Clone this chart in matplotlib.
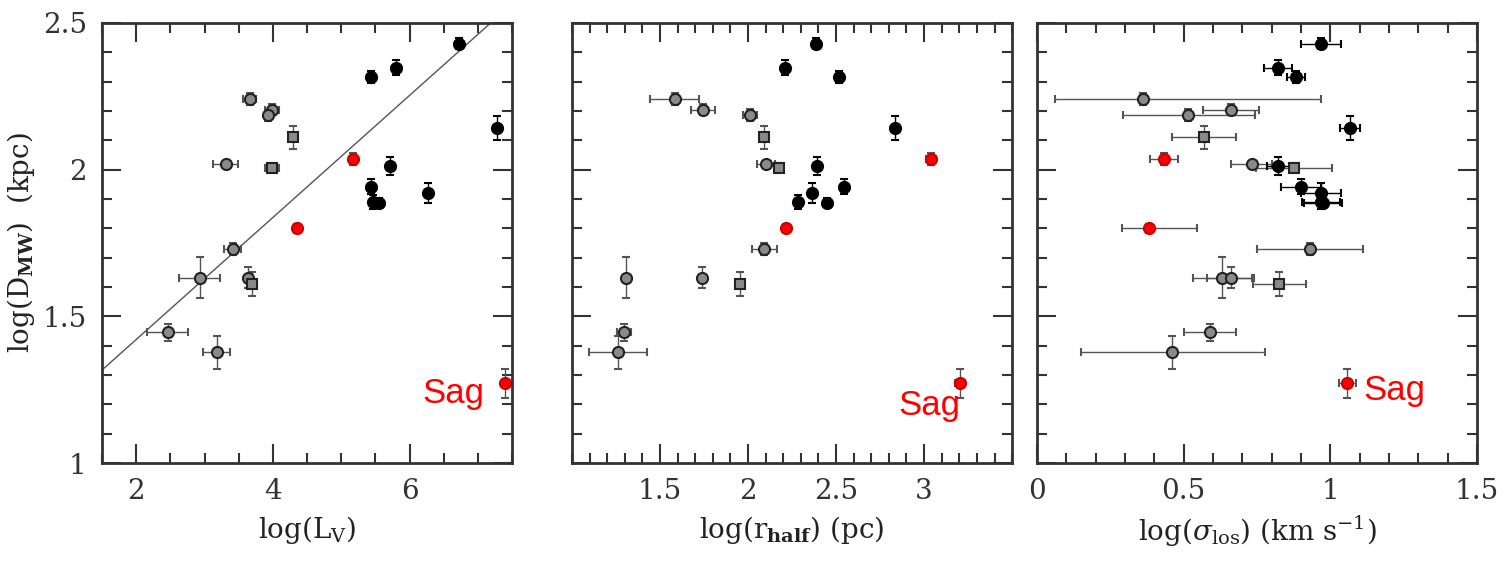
import matplotlib.pyplot as plt
from matplotlib.ticker import MultipleLocator, FormatStrFormatter

plt.rcParams['font.family'] = 'DejaVu Serif'
plt.rcParams['mathtext.fontset'] = 'dejavuserif'

# one entry per galaxy (same order in every list)
kind = ['filled', 'filled', 'filled', 'open', 'open', 'open', 'square', 'filled',
        'red', 'open', 'square', 'filled', 'filled', 'filled', 'filled', 'filled',
        'red', 'open', 'open', 'open', 'square', 'open', 'open', 'red']
log_dmw = [2.43, 2.348, 2.316, 2.24, 2.205, 2.187, 2.11, 2.142,
           2.037, 2.018, 2.007, 2.013, 1.942, 1.921, 1.89, 1.887,
           1.80, 1.73, 1.632, 1.632, 1.61, 1.445, 1.377, 1.272]
dmw_err = [0.02, 0.025, 0.02, 0.02, 0.02, 0.02, 0.04, 0.04,
           0.02, 0.01, 0.015, 0.03, 0.025, 0.035, 0.025, 0.015,
           0.015, 0.02, 0.07, 0.035, 0.04, 0.03, 0.055, 0.05]

log_lv = [6.73, 5.80, 5.43, 3.66, 3.99, 3.93, 4.29, 7.28,
          5.18, 3.31, 3.99, 5.71, 5.43, 6.27, 5.46, 5.56,
          4.36, 3.41, 2.93, 3.64, 3.69, 2.46, 3.18, 7.40]
lv_err = [0.0, 0.0, 0.0, 0.1, 0.1, 0.05, 0.0, 0.0,
          0.03, 0.18, 0.1, 0.0, 0.0, 0.0, 0.0, 0.0,
          0.03, 0.13, 0.3, 0.05, 0.05, 0.3, 0.2, 0.0]

log_rhalf = [2.386, 2.208, 2.519, 1.583, 1.743, 2.013, 2.093, 2.834,
             3.04, 2.102, 2.178, 2.392, 2.547, 2.364, 2.282, 2.449,
             2.216, 2.093, 1.307, 1.739, 1.956, 1.294, 1.26, 3.203]
rhalf_err = [0.0, 0.0, 0.0, 0.14, 0.07, 0.04, 0.02, 0.0,
             0.03, 0.05, 0.02, 0.0, 0.0, 0.0, 0.0, 0.0,
             0.02, 0.07, 0.02, 0.02, 0.02, 0.04, 0.165, 0.03]

log_sig = [0.967, 0.823, 0.883, 0.362, 0.661, 0.516, 0.569, 1.067,
           0.434, 0.732, 0.877, 0.823, 0.899, 0.967, 0.967, 0.976,
           0.382, 0.931, 0.632, 0.661, 0.826, 0.59, 0.459, 1.058]
sig_err_lo = [0.068, 0.048, 0.03, 0.30, 0.095, 0.222, 0.108, 0.035,
              0.048, 0.07, 0.13, 0.04, 0.068, 0.068, 0.065, 0.065,
              0.093, 0.18, 0.1, 0.08, 0.09, 0.09, 0.31, 0.03]
sig_err_hi = [0.068, 0.048, 0.03, 0.605, 0.095, 0.227, 0.108, 0.035,
              0.048, 0.07, 0.13, 0.04, 0.068, 0.068, 0.065, 0.065,
              0.165, 0.18, 0.1, 0.08, 0.09, 0.09, 0.32, 0.03]

fit_slope, fit_icpt = 0.208, 1.005

styles = {
    'filled': dict(marker='o', ms=8, mfc='black', mec='black', ecolor='black'),
    'open': dict(marker='o', ms=8, mfc='#8a8a8a', mec='#222222', ecolor='#555555'),
    'square': dict(marker='s', ms=6.5, mfc='#8a8a8a', mec='#222222', ecolor='#555555'),
    'red': dict(marker='o', ms=8, mfc='red', mec='#cc0000', ecolor='#555555'),
}


def draw(ax, x, xlo, xhi):
    order = [i for i in range(len(kind)) if kind[i] != 'red'] + \
            [i for i in range(len(kind)) if kind[i] == 'red']
    for i in order:
        st = styles[kind[i]]
        ax.errorbar(x[i], log_dmw[i], xerr=[[xlo[i]], [xhi[i]]], yerr=dmw_err[i],
                    marker=st['marker'], ms=st['ms'], mfc=st['mfc'], mec=st['mec'],
                    ecolor=st['ecolor'], mew=1.5, elinewidth=1,
                    capsize=3, capthick=1, ls='none')


def style_axes(ax, xmaj, xmin):
    ax.set_ylim(1, 2.5)
    ax.yaxis.set_major_locator(MultipleLocator(0.5))
    ax.yaxis.set_minor_locator(MultipleLocator(0.1))
    ax.yaxis.set_major_formatter(FormatStrFormatter('%g'))
    ax.xaxis.set_major_locator(MultipleLocator(xmaj))
    ax.xaxis.set_minor_locator(MultipleLocator(xmin))
    ax.xaxis.set_major_formatter(FormatStrFormatter('%g'))
    ax.tick_params(which='both', direction='in', top=True, right=True,
                   colors='#333333', labelsize=20, pad=11)
    ax.tick_params(which='major', length=14, width=1.5)
    ax.tick_params(which='minor', length=7, width=1.5)
    for s in ax.spines.values():
        s.set_linewidth(2)
        s.set_color('#333333')


fig = plt.figure(figsize=(15.05, 5.65), dpi=100)
ax1 = fig.add_axes([0.0678, 0.1805, 0.2724, 0.7788])
ax2 = fig.add_axes([0.3801, 0.1805, 0.2924, 0.7788])
ax3 = fig.add_axes([0.6890, 0.1805, 0.2924, 0.7788])

# panel 1: luminosity
draw(ax1, log_lv, lv_err, lv_err)
ax1.set_xlim(1.5, 7.5)
xs = [1.5, 7.5]
ax1.plot(xs, [fit_icpt + fit_slope * v for v in xs], color='#555555', lw=1)
style_axes(ax1, 2, 0.5)
ax1.set_xlabel(r'log(L$_{\rm V}$)', fontsize=20, color='#222222', labelpad=6)
ax1.set_ylabel(r'log(D$_{\bf MW}$)  (kpc)', fontsize=20, color='#222222', labelpad=4)
ax1.text(6.19, 1.204, 'Sag', color='red', fontsize=25, family='Liberation Sans')

# panel 2: half-light radius
draw(ax2, log_rhalf, rhalf_err, rhalf_err)
ax2.set_xlim(1.0, 3.5)
style_axes(ax2, 0.5, 0.1)
ax2.set_xticks([1.5, 2, 2.5, 3])
ax2.set_yticklabels([])
ax2.set_xlabel(r'log(r$_{\bf half}$) (pc)', fontsize=20, color='#222222', labelpad=6)
ax2.text(2.852, 1.163, 'Sag', color='red', fontsize=25, family='Liberation Sans')

# panel 3: velocity dispersion
draw(ax3, log_sig, sig_err_lo, sig_err_hi)
ax3.set_xlim(0, 1.5)
style_axes(ax3, 0.5, 0.1)
ax3.set_yticklabels([])
ax3.set_xlabel(r'log($\sigma_{\rm los}$) (km s$^{-1}$)', fontsize=20, color='#222222', labelpad=6)
ax3.text(1.111, 1.215, 'Sag', color='red', fontsize=25, family='Liberation Sans')

fig.savefig('out.png', dpi=100)
